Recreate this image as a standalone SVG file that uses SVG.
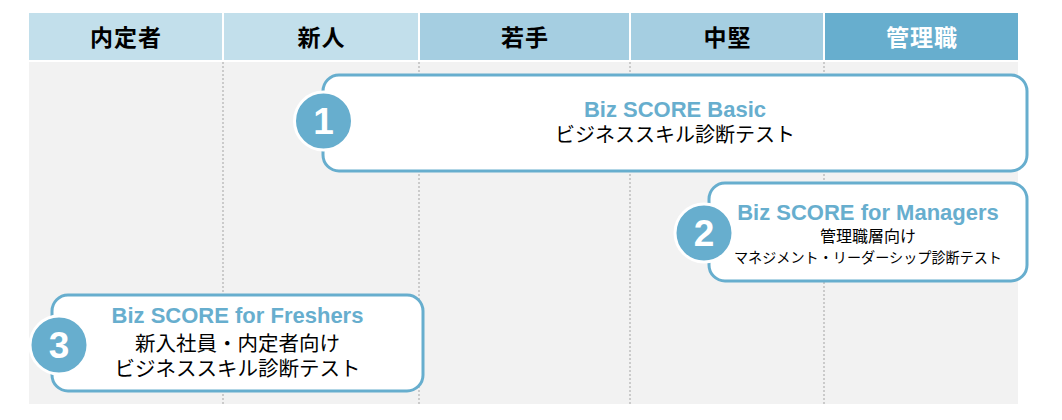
<svg xmlns="http://www.w3.org/2000/svg" width="1062" height="420" viewBox="0 0 1062 420">
<style>
.hd{font-family:"Liberation Sans","Noto Sans CJK JP",sans-serif;font-size:23px;font-weight:bold;text-anchor:middle;letter-spacing:1px}
.box{fill:#fff;stroke:#67AECE;stroke-width:3}
.num-c{fill:#67AECE;stroke:#fff;stroke-width:3}
.num{font-family:"Liberation Sans",Arial,sans-serif;font-size:37px;font-weight:bold;fill:#fff;text-anchor:middle}
.ttl{font-family:"Liberation Sans",Arial,sans-serif;font-size:22px;font-weight:bold;fill:#67AECE;text-anchor:middle}
.jp{font-family:"Liberation Sans","Noto Sans CJK JP",sans-serif;fill:#000;text-anchor:middle}
.grid{stroke:#BFBFBF;stroke-width:1.5;stroke-dasharray:2 2}
</style>
<rect width="1062" height="420" fill="#fff"/>
<g id="header">
<rect x="29" y="13" width="193" height="47" fill="#C2DFEB"/>
<rect x="224" y="13" width="194" height="47" fill="#C2DFEB"/>
<rect x="420" y="13" width="209" height="47" fill="#A5CEE1"/>
<rect x="631" y="13" width="192" height="47" fill="#A5CEE1"/>
<rect x="825" y="13" width="193" height="47" fill="#67AECE"/>
<text class="hd" x="126" y="46" fill="#000">内定者</text>
<text class="hd" x="321.5" y="46" fill="#000">新人</text>
<text class="hd" x="525" y="46" fill="#000">若手</text>
<text class="hd" x="727.5" y="46" fill="#000">中堅</text>
<text class="hd" x="922" y="46" fill="#fff">管理職</text>
</g>
<g id="body">
<rect x="29" y="62" width="989" height="342" fill="#F2F2F2"/>
<line class="grid" x1="223" y1="62" x2="223" y2="404"/>
<line class="grid" x1="419" y1="62" x2="419" y2="404"/>
<line class="grid" x1="630" y1="62" x2="630" y2="404"/>
<line class="grid" x1="824" y1="62" x2="824" y2="404"/>
</g>
<g id="connectors"></g>
<g id="node1">
<rect class="box" x="323" y="75" width="704" height="96" rx="16"/>
<circle class="num-c" cx="323.5" cy="121" r="29"/>
<text class="num" x="323.5" y="134">1</text>
<text class="ttl" x="675" y="117">Biz SCORE Basic</text>
<text class="jp" x="675" y="142" font-size="20">ビジネススキル診断テスト</text>
</g>
<g id="node2">
<rect class="box" x="709" y="183" width="318" height="98" rx="16"/>
<circle class="num-c" cx="704" cy="233" r="29"/>
<text class="num" x="704" y="246">2</text>
<text class="ttl" x="868" y="220">Biz SCORE for Managers</text>
<text class="jp" x="868" y="242" font-size="16">管理職層向け</text>
<text class="jp" x="868" y="263" font-size="14.5" textLength="268" lengthAdjust="spacingAndGlyphs">マネジメント・リーダーシップ診断テスト</text>
</g>
<g id="node3">
<rect class="box" x="52" y="295" width="371" height="96" rx="16"/>
<circle class="num-c" cx="59" cy="345" r="29"/>
<text class="num" x="59" y="358">3</text>
<text class="ttl" x="237.5" y="323">Biz SCORE for Freshers</text>
<text class="jp" x="237.5" y="351" font-size="20.5">新入社員・内定者向け</text>
<text class="jp" x="237.5" y="376" font-size="20.5">ビジネススキル診断テスト</text>
</g>
</svg>
